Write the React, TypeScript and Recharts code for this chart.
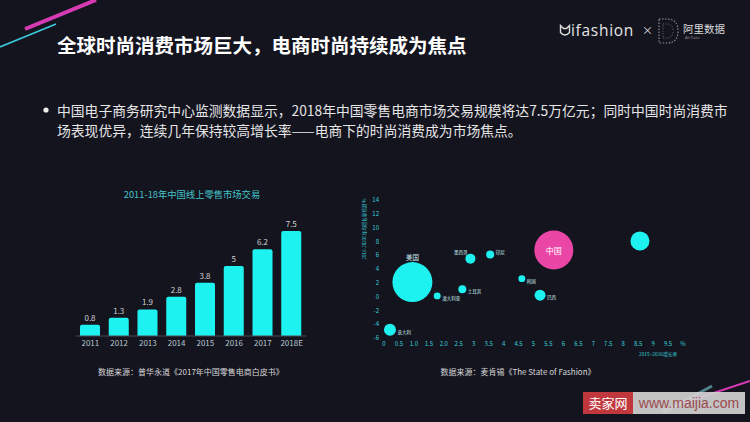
import React from "react";
import {
  Bar,
  BarChart,
  Cell,
  LabelList,
  Scatter,
  ScatterChart,
  XAxis,
  YAxis,
  ZAxis
} from "recharts";

// left chart: online retail volume (万亿元)
const years = ["2011", "2012", "2013", "2014", "2015", "2016", "2017", "2018E"];
const retailVolume = [0.8, 1.3, 1.9, 2.8, 3.8, 5, 6.2, 7.5];

// right chart: growth bubbles
const countries = ["美国", "中国", "印度", "墨西哥", "印尼", "韩国", "巴西", "土耳其", "澳大利亚", "意大利"];
const growthPast = [0.95, 5.68, 8.56, 2.89, 3.55, 4.61, 5.22, 2.62, 1.78, 0.2];
const growthForecast = [2.1, 6.75, 8.05, 5.5, 6.1, 2.6, 0.2, 1.05, 0.1, -4.8];
const marketSize = [400, 380, 90, 25, 16, 12, 30, 16, 12, 36];

const xTicks = [0, 0.5, 1, 1.5, 2, 2.5, 3, 3.5, 4, 4.5, 5, 5.5, 6, 6.5, 7, 7.5, 8, 8.5, 9, 9.5, 10];
const xTickLabels = ["0", "0.5", "1.0", "1.5", "2.0", "2.5", "3", "3.5", "4", "4.5", "5", "5.5", "6", "6.5", "7", "7.5", "8", "8.5", "9", "9.5", "%"];
const yTicks = [-6, -4, -2, 0, 2, 4, 6, 8, 10, 12, 14];

const barData = years.map((year, i) => ({ year, value: retailVolume[i] }));
const bubbleData = countries.map((name, i) => ({
  name,
  x: growthPast[i],
  y: growthForecast[i],
  z: marketSize[i]
}));

const labelSide: Record<string, string> = {
  美国: "top",
  中国: "center",
  印度: "none",
  墨西哥: "topLeft",
  印尼: "rightUp",
  韩国: "right",
  巴西: "right",
  土耳其: "right",
  澳大利亚: "right",
  意大利: "right"
};

const CYAN = "#1ef2f0";
const PINK = "#ea46a6";
const BG = "#14141f";
const FONT = '"Noto Sans CJK SC", "Noto Sans", sans-serif';

function Bubble(props: any) {
  const { cx, cy, payload, fill } = props;
  const r = props.width ? props.width / 2 : Math.sqrt((props.size ?? 64) / Math.PI);
  const side = labelSide[payload.name];
  let label = null;
  if (side === "top") {
    label = (
      <text x={cx} y={cy - r - 5} textAnchor="middle" dominantBaseline="central" fontSize={6.5} fill="#c8eef0">
        {payload.name}
      </text>
    );
  } else if (side === "center") {
    label = (
      <text x={cx} y={cy} textAnchor="middle" dominantBaseline="central" fontSize={8} fill="#ffffff">
        {payload.name}
      </text>
    );
  } else if (side === "topLeft") {
    label = (
      <text x={cx - 3} y={cy - r - 2} textAnchor="end" dominantBaseline="central" fontSize={4.5} fill="#c8eef0">
        {payload.name}
      </text>
    );
  } else if (side === "right" || side === "rightUp") {
    label = (
      <text x={cx + r + 1.5} y={side === "rightUp" ? cy - 3 : cy + 2} textAnchor="start" dominantBaseline="central" fontSize={4.5} fill="#c8eef0">
        {payload.name}
      </text>
    );
  }
  return (
    <g>
      <circle cx={cx} cy={cy} r={r} fill={fill} />
      {label}
    </g>
  );
}

const abs = (s: React.CSSProperties): React.CSSProperties => ({ position: "absolute", whiteSpace: "nowrap", ...s });

export default function App() {
  return (
    <div style={{ position: "fixed", left: 0, top: 0, width: 750, height: 422, background: BG, overflow: "hidden", fontFamily: FONT }}>
      {/* decoration */}
      <svg width={750} height={422} style={{ position: "absolute", left: 0, top: 0 }}>
        <line x1={25} y1={29} x2={96} y2={0} stroke="#d63bb4" strokeWidth={4} />
        <line x1={0} y1={47} x2={56} y2={24} stroke="#3ac6d6" strokeWidth={1.8} />
        <line x1={750} y1={381} x2={662} y2={410} stroke="#d63bb4" strokeWidth={2} />
        <line x1={712} y1={386} x2={664} y2={412} stroke="#8ef0f6" strokeWidth={3} strokeOpacity={0.5} />
        <circle cx={46} cy={110} r={2.6} fill="#eeeeee" />
      </svg>

      <div style={abs({ left: 57, top: 34, fontSize: 19.5, fontWeight: 700, color: "#ffffff", lineHeight: "22px" })}>
        全球时尚消费市场巨大，电商时尚持续成为焦点
      </div>

      {/* logo */}
      <svg width={12} height={14} style={{ position: "absolute", left: 559, top: 24 }}>
        <path d="M1.5,1.5 L4.5,4.5 L7.5,4.5 L10.5,1.5 L10.5,8.5 Q6,13.5 1.5,8.5 Z" fill="none" stroke="#dddddd" strokeWidth={1.4} />
      </svg>
      <div style={abs({ left: 571, top: 20, fontSize: 15.5, letterSpacing: 0.7, color: "#e4e4e4", fontFamily: '"Open Sans", sans-serif', lineHeight: "20px" })}>
        ifashion
      </div>
      <div style={abs({ left: 642, top: 22, fontSize: 11, color: "#dddddd", lineHeight: "16px" })}>×</div>
      <svg width={28} height={30} style={{ position: "absolute", left: 654, top: 16 }}>
        <path d="M5,3 L13,3 Q24,3 24,15 Q24,27 13,27 L5,27 Z" fill="none" stroke="#8a8a94" strokeWidth={1.2} strokeDasharray="1.5 1.5" />
        <path d="M9,8 L13,8 Q19,8 19,15 Q19,22 13,22 L9,22 Z" fill="none" stroke="#6a6a74" strokeWidth={1} strokeDasharray="1 1.5" />
      </svg>
      <div style={abs({ left: 683, top: 22, fontSize: 10.5, color: "#d8d8d8", lineHeight: "14px" })}>阿里数据</div>
      <div style={abs({ left: 685, top: 35, fontSize: 4, color: "#999999", lineHeight: "6px", fontFamily: '"Open Sans", sans-serif' })}>Ali Data</div>

      {/* bullet text */}
      <div style={abs({ left: 57, top: 100, fontSize: 13.8, color: "#e6e6e6", lineHeight: "20px" })}>
        中国电子商务研究中心监测数据显示，2018年中国零售电商市场交易规模将达7.5万亿元；同时中国时尚消费市
        <br />
        场表现优异，连续几年保持较高增长率——电商下的时尚消费成为市场焦点。
      </div>

      {/* bar chart */}
      <div style={abs({ left: 100, top: 188, width: 184, textAlign: "center", fontSize: 9.3, color: "#45c2c8", lineHeight: "12px" })}>
        2011-18年中国线上零售市场交易
      </div>
      <div style={{ position: "absolute", left: 40, top: 200 }}>
        <BarChart width={290} height={160} data={barData} margin={{ top: 24, right: 24, left: 36, bottom: 0 }}>
          <XAxis
            dataKey="year"
            height={24}
            axisLine={{ stroke: "#4a4a55" }}
            tickLine={false}
            tickSize={2}
            tickMargin={2}
            interval={0}
            tick={{ fill: "#b4c6ce", fontSize: 8 }}
          />
          <YAxis hide domain={[0, 8]} />
          <Bar dataKey="value" fill={CYAN} barSize={20} radius={[2, 2, 0, 0]} isAnimationActive={false}>
            <LabelList dataKey="value" position="top" offset={4} fill="#d2d2d2" fontSize={8} />
          </Bar>
        </BarChart>
      </div>
      <div style={abs({ left: 90, top: 366, width: 202, textAlign: "center", fontSize: 8, color: "#d6d6d6", lineHeight: "12px" })}>
        数据来源：普华永道《2017年中国零售电商白皮书》
      </div>

      {/* bubble chart */}
      <div style={{ position: "absolute", left: 340, top: 190 }}>
        <ScatterChart width={360} height={170} margin={{ top: 10, right: 17, left: 0, bottom: 0 }}>
          <XAxis
            type="number"
            dataKey="x"
            domain={[0, 10]}
            ticks={xTicks}
            interval={0}
            height={22}
            axisLine={false}
            tickLine={false}
            tickSize={2}
            tickMargin={2}
            tickFormatter={(v: number, i: number) => xTickLabels[i]}
            tick={{ fill: "#38d0d8", fontSize: 6 }}
          />
          <YAxis
            type="number"
            dataKey="y"
            domain={[-6, 14]}
            ticks={yTicks}
            interval={0}
            width={44}
            axisLine={false}
            tickLine={false}
            tickSize={2}
            tickMargin={3}
            tick={{ fill: "#38d0d8", fontSize: 6 }}
          />
          <ZAxis type="number" dataKey="z" domain={[0, 400]} range={[0, 400 * Math.PI]} />
          <Scatter data={bubbleData} shape={Bubble} isAnimationActive={false}>
            {bubbleData.map((d) => (
              <Cell key={d.name} fill={d.name === "中国" ? PINK : CYAN} />
            ))}
          </Scatter>
        </ScatterChart>
      </div>
      <div
        style={abs({
          left: 333,
          top: 226,
          width: 62,
          height: 6,
          textAlign: "center",
          fontSize: 4.5,
          lineHeight: "6px",
          color: "#38d0d8",
          transform: "rotate(-90deg)"
        })}
      >
        2016-2020E年均增长率预测 %
      </div>
      <div style={abs({ left: 639, top: 351, fontSize: 4.8, color: "#38d0d8", lineHeight: "6px" })}>2015~2016增长率</div>
      <div style={abs({ left: 418, top: 366, width: 200, textAlign: "center", fontSize: 8, color: "#d6d6d6", lineHeight: "12px" })}>
        数据来源：麦肯锡《The State of Fashion》
      </div>

      {/* watermark */}
      <div style={abs({ left: 583, top: 392, width: 50, height: 22, background: "#c0383e", color: "#ffffff", fontSize: 13, lineHeight: "22px", textAlign: "center" })}>
        卖家网
      </div>
      <div
        style={abs({
          left: 633,
          top: 392,
          width: 112,
          height: 22,
          background: "rgba(210,210,210,0.92)",
          color: "#9c4a4e",
          fontSize: 14,
          lineHeight: "22px",
          textAlign: "center",
          fontFamily: '"Liberation Sans Narrow", "Liberation Sans", sans-serif'
        })}
      >
        www.maijia.com
      </div>
    </div>
  );
}
